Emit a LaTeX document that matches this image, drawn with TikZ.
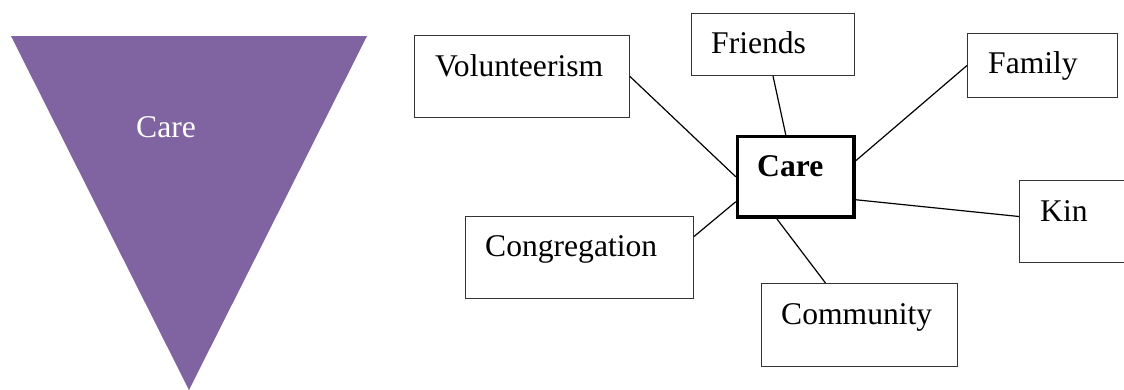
\documentclass[tikz,border=0pt]{standalone}
\usepackage{fontspec}
\setmainfont{Liberation Serif}
\definecolor{funnel}{HTML}{8064A2}
\begin{document}
\begin{tikzpicture}[x=1pt,y=-1pt,
  box/.style={draw=black!80, line width=1pt, inner sep=0pt, anchor=north west},
  carebox/.style={draw=black, line width=3.5pt, inner sep=0pt, anchor=north west},
  lbl/.style={anchor=base west, inner sep=0pt, font=\fontsize{31.6}{38}\selectfont},
  conn/.style={draw=black, line width=1.2pt}]
\useasboundingbox (0,0) rectangle (1124,389);

% inverted triangle on the left
\fill[funnel] (11,36) -- (367,36) -- (189,390) -- cycle;
\node[lbl, text=white] (tri) at (136,137) {Care};

% central box
\node[carebox, minimum width=116.5pt, minimum height=80.5pt] (care) at (735.75,134.75) {};
\node[lbl, font=\fontsize{31.6}{38}\selectfont\bfseries] (caret) at (757,176) {Care};

% surrounding boxes
\node[box, minimum width=215pt, minimum height=82pt] (vol) at (414,35) {};
\node[lbl] (volt) at (435,76) {Volunteerism};

\node[box, minimum width=163pt, minimum height=62pt] (friends) at (691,13) {};
\node[lbl] (friendst) at (711,53) {Friends};

\node[box, minimum width=150pt, minimum height=64pt] (family) at (967,33) {};
\node[lbl] (familyt) at (988,73) {Family};

\node[box, minimum width=109pt, minimum height=82pt] (kin) at (1019,180) {};
\node[lbl] (kint) at (1040,221) {Kin};

\node[box, minimum width=228pt, minimum height=82pt] (cong) at (465,216) {};
\node[lbl] (congt) at (485,256) {Congregation};

\node[box, minimum width=196pt, minimum height=83pt] (comm) at (761,283) {};
\node[lbl] (commt) at (781,324) {Community};

% connectors
\draw[conn] (vol.east) -- (care.west);
\draw[conn] (friends.south) -- ([xshift=-10pt]care.north);
\draw[conn] (family.west) -- ([yshift=16pt]care.east);
\draw[conn] ([yshift=-23pt]care.east) -- ([yshift=5pt]kin.west);
\draw[conn] ([yshift=-25pt]care.west) -- ([yshift=21pt]cong.east);
\draw[conn] ([xshift=-19pt]care.south) -- ([xshift=-34pt]comm.north);
\end{tikzpicture}
\end{document}
